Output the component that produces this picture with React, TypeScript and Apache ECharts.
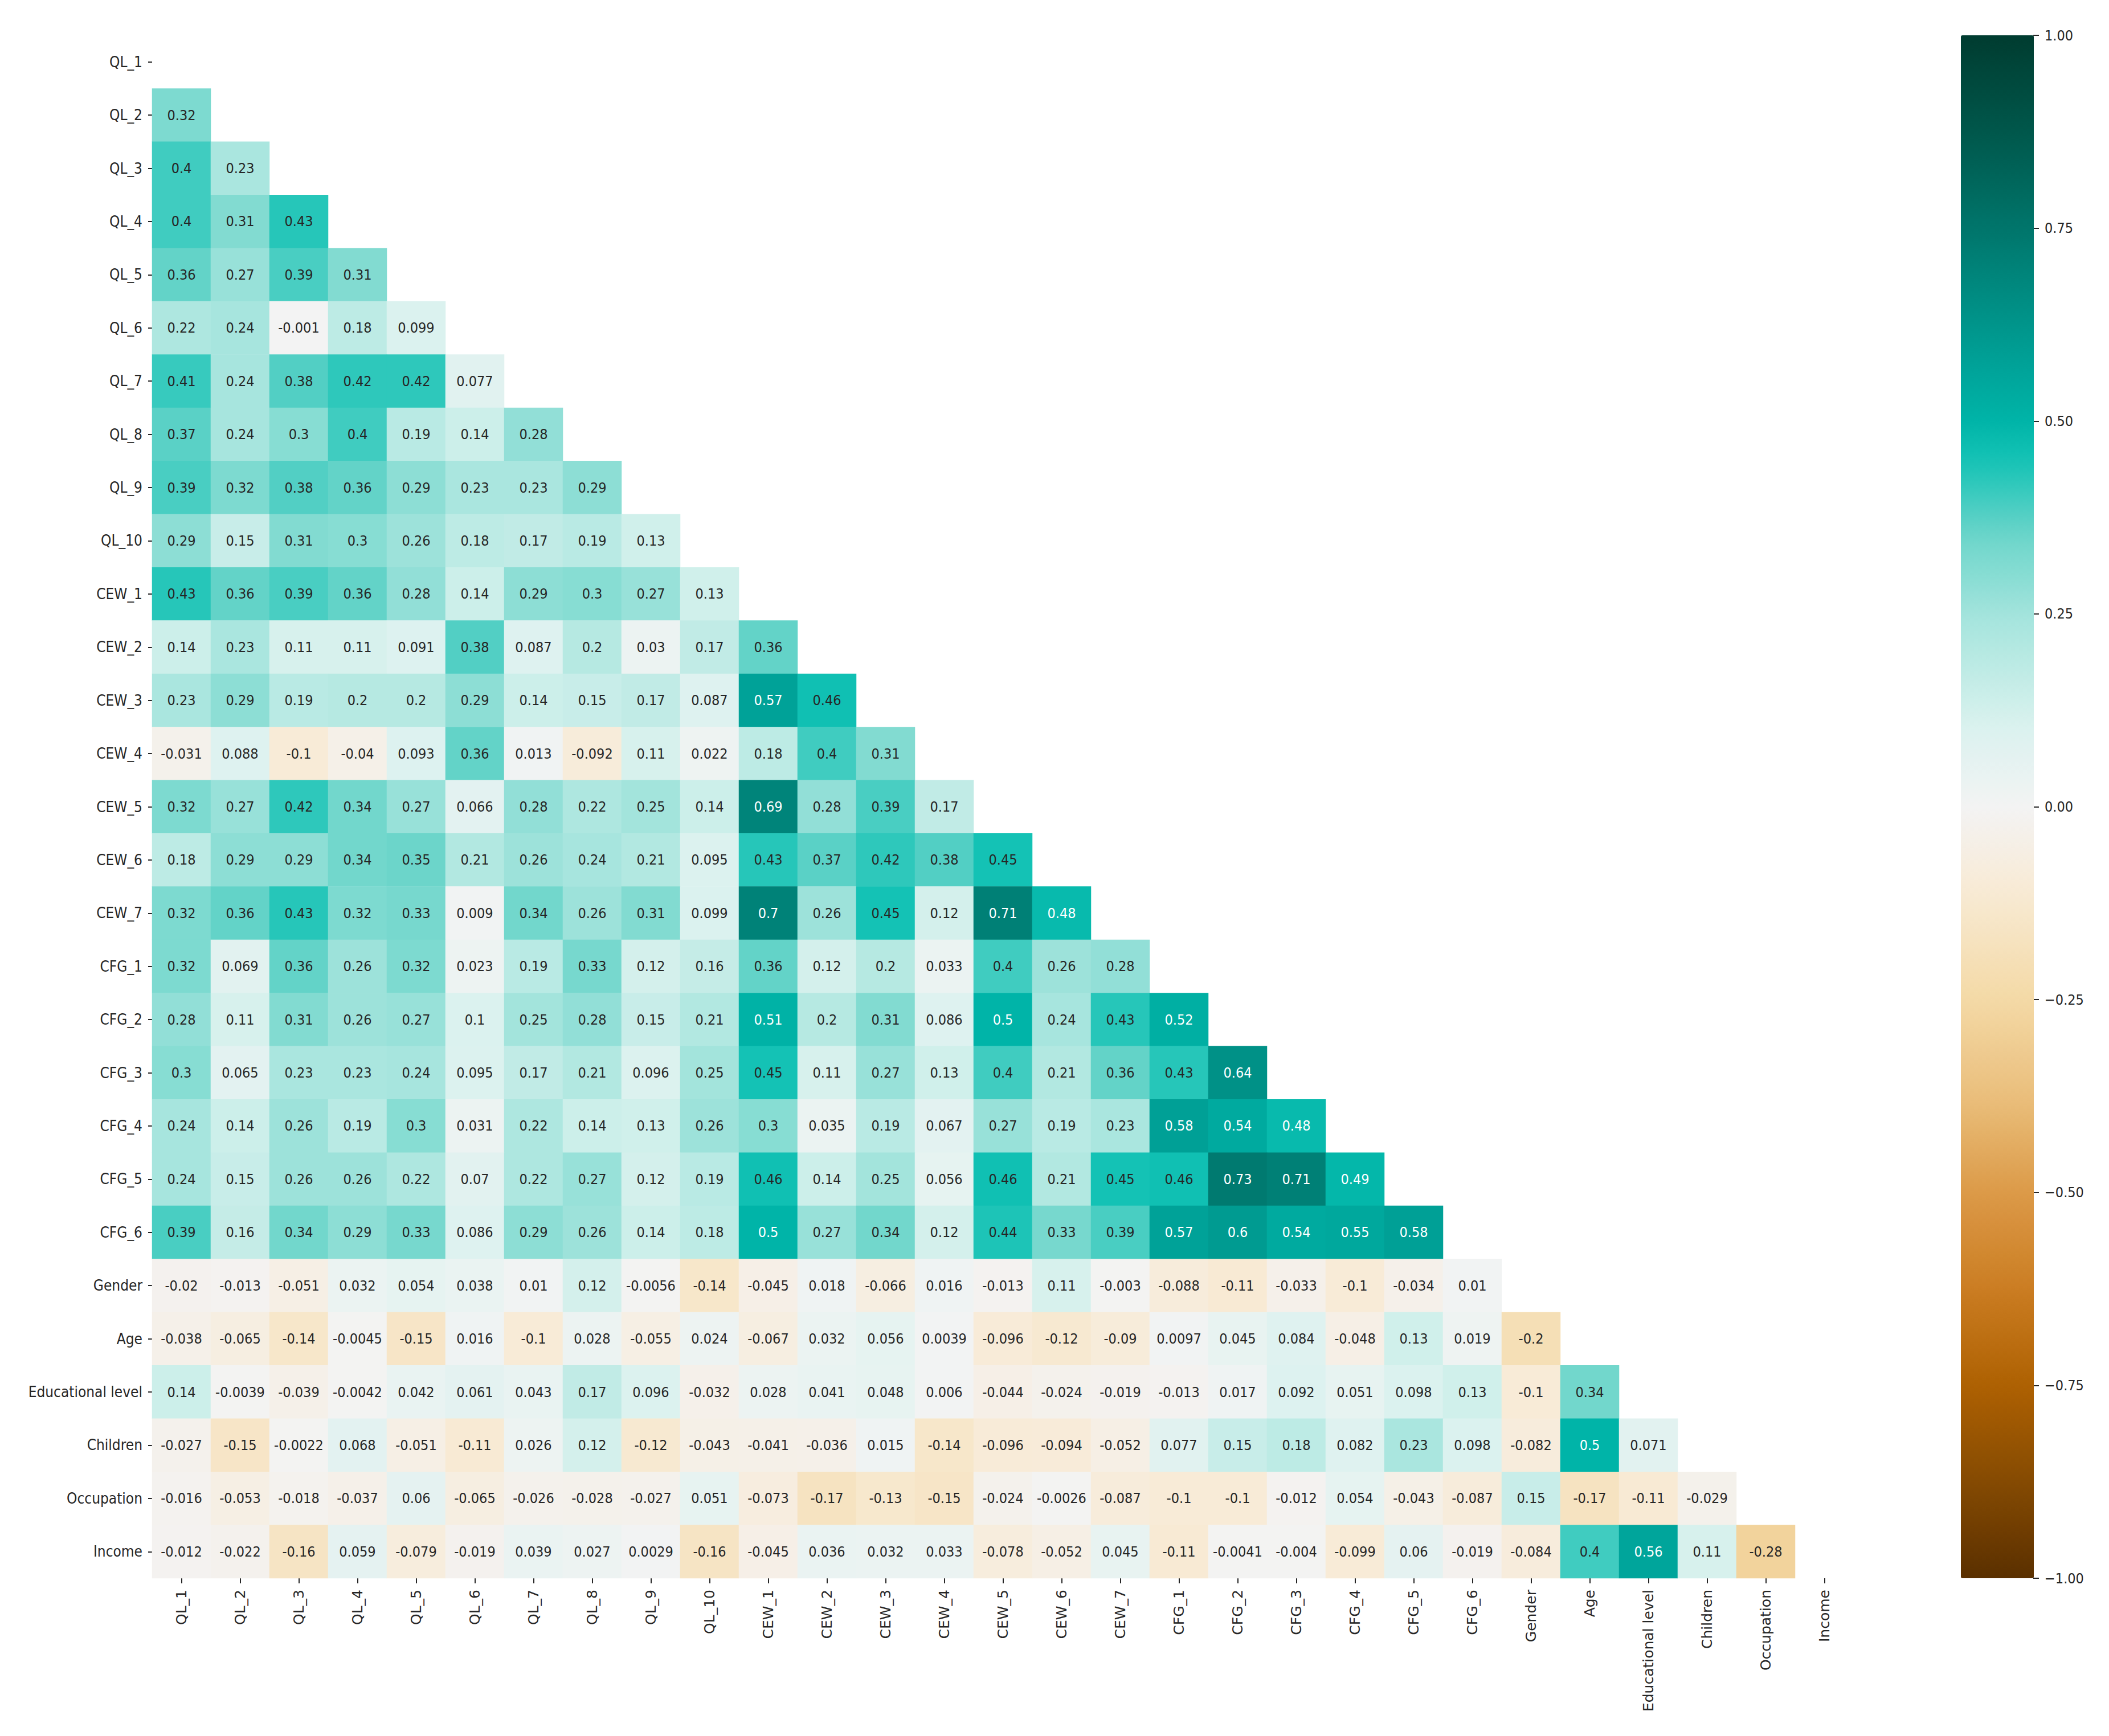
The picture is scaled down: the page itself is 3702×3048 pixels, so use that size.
import React, { useEffect, useRef } from "react";
import * as echarts from "echarts";

// ---------- DATA ----------
const variables = [
  "QL_1", "QL_2", "QL_3", "QL_4", "QL_5", "QL_6", "QL_7", "QL_8", "QL_9", "QL_10",
  "CEW_1", "CEW_2", "CEW_3", "CEW_4", "CEW_5", "CEW_6", "CEW_7",
  "CFG_1", "CFG_2", "CFG_3", "CFG_4", "CFG_5", "CFG_6",
  "Gender", "Age", "Educational level", "Children", "Occupation", "Income",
];

// lower triangle, one row per variable (values against earlier columns)
const rowQL_1: number[] = [];
const rowQL_2 = [0.32];
const rowQL_3 = [0.4, 0.23];
const rowQL_4 = [0.4, 0.31, 0.43];
const rowQL_5 = [0.36, 0.27, 0.39, 0.31];
const rowQL_6 = [0.22, 0.24, -0.001, 0.18, 0.099];
const rowQL_7 = [0.41, 0.24, 0.38, 0.42, 0.42, 0.077];
const rowQL_8 = [0.37, 0.24, 0.3, 0.4, 0.19, 0.14, 0.28];
const rowQL_9 = [0.39, 0.32, 0.38, 0.36, 0.29, 0.23, 0.23, 0.29];
const rowQL_10 = [0.29, 0.15, 0.31, 0.3, 0.26, 0.18, 0.17, 0.19, 0.13];
const rowCEW_1 = [0.43, 0.36, 0.39, 0.36, 0.28, 0.14, 0.29, 0.3, 0.27, 0.13];
const rowCEW_2 = [0.14, 0.23, 0.11, 0.11, 0.091, 0.38, 0.087, 0.2, 0.03, 0.17, 0.36];
const rowCEW_3 = [0.23, 0.29, 0.19, 0.2, 0.2, 0.29, 0.14, 0.15, 0.17, 0.087, 0.57, 0.46];
const rowCEW_4 = [-0.031, 0.088, -0.1, -0.04, 0.093, 0.36, 0.013, -0.092, 0.11, 0.022, 0.18, 0.4, 0.31];
const rowCEW_5 = [0.32, 0.27, 0.42, 0.34, 0.27, 0.066, 0.28, 0.22, 0.25, 0.14, 0.69, 0.28, 0.39, 0.17];
const rowCEW_6 = [0.18, 0.29, 0.29, 0.34, 0.35, 0.21, 0.26, 0.24, 0.21, 0.095, 0.43, 0.37, 0.42, 0.38, 0.45];
const rowCEW_7 = [0.32, 0.36, 0.43, 0.32, 0.33, 0.009, 0.34, 0.26, 0.31, 0.099, 0.7, 0.26, 0.45, 0.12, 0.71, 0.48];
const rowCFG_1 = [0.32, 0.069, 0.36, 0.26, 0.32, 0.023, 0.19, 0.33, 0.12, 0.16, 0.36, 0.12, 0.2, 0.033, 0.4, 0.26, 0.28];
const rowCFG_2 = [0.28, 0.11, 0.31, 0.26, 0.27, 0.1, 0.25, 0.28, 0.15, 0.21, 0.51, 0.2, 0.31, 0.086, 0.5, 0.24, 0.43, 0.52];
const rowCFG_3 = [0.3, 0.065, 0.23, 0.23, 0.24, 0.095, 0.17, 0.21, 0.096, 0.25, 0.45, 0.11, 0.27, 0.13, 0.4, 0.21, 0.36, 0.43, 0.64];
const rowCFG_4 = [0.24, 0.14, 0.26, 0.19, 0.3, 0.031, 0.22, 0.14, 0.13, 0.26, 0.3, 0.035, 0.19, 0.067, 0.27, 0.19, 0.23, 0.58, 0.54, 0.48];
const rowCFG_5 = [0.24, 0.15, 0.26, 0.26, 0.22, 0.07, 0.22, 0.27, 0.12, 0.19, 0.46, 0.14, 0.25, 0.056, 0.46, 0.21, 0.45, 0.46, 0.73, 0.71, 0.49];
const rowCFG_6 = [0.39, 0.16, 0.34, 0.29, 0.33, 0.086, 0.29, 0.26, 0.14, 0.18, 0.5, 0.27, 0.34, 0.12, 0.44, 0.33, 0.39, 0.57, 0.6, 0.54, 0.55, 0.58];
const rowGender = [-0.02, -0.013, -0.051, 0.032, 0.054, 0.038, 0.01, 0.12, -0.0056, -0.14, -0.045, 0.018, -0.066, 0.016, -0.013, 0.11, -0.003, -0.088, -0.11, -0.033, -0.1, -0.034, 0.01];
const rowAge = [-0.038, -0.065, -0.14, -0.0045, -0.15, 0.016, -0.1, 0.028, -0.055, 0.024, -0.067, 0.032, 0.056, 0.0039, -0.096, -0.12, -0.09, 0.0097, 0.045, 0.084, -0.048, 0.13, 0.019, -0.2];
const rowEducation = [0.14, -0.0039, -0.039, -0.0042, 0.042, 0.061, 0.043, 0.17, 0.096, -0.032, 0.028, 0.041, 0.048, 0.006, -0.044, -0.024, -0.019, -0.013, 0.017, 0.092, 0.051, 0.098, 0.13, -0.1, 0.34];
const rowChildren = [-0.027, -0.15, -0.0022, 0.068, -0.051, -0.11, 0.026, 0.12, -0.12, -0.043, -0.041, -0.036, 0.015, -0.14, -0.096, -0.094, -0.052, 0.077, 0.15, 0.18, 0.082, 0.23, 0.098, -0.082, 0.5, 0.071];
const rowOccupation = [-0.016, -0.053, -0.018, -0.037, 0.06, -0.065, -0.026, -0.028, -0.027, 0.051, -0.073, -0.17, -0.13, -0.15, -0.024, -0.0026, -0.087, -0.1, -0.1, -0.012, 0.054, -0.043, -0.087, 0.15, -0.17, -0.11, -0.029];
const rowIncome = [-0.012, -0.022, -0.16, 0.059, -0.079, -0.019, 0.039, 0.027, 0.0029, -0.16, -0.045, 0.036, 0.032, 0.033, -0.078, -0.052, 0.045, -0.11, -0.0041, -0.004, -0.099, 0.06, -0.019, -0.084, 0.4, 0.56, 0.11, -0.28];

const lowerRows = [
  rowQL_1, rowQL_2, rowQL_3, rowQL_4, rowQL_5, rowQL_6, rowQL_7, rowQL_8, rowQL_9, rowQL_10,
  rowCEW_1, rowCEW_2, rowCEW_3, rowCEW_4, rowCEW_5, rowCEW_6, rowCEW_7,
  rowCFG_1, rowCFG_2, rowCFG_3, rowCFG_4, rowCFG_5, rowCFG_6,
  rowGender, rowAge, rowEducation, rowChildren, rowOccupation, rowIncome,
];

const colorbarMin = -1;
const colorbarMax = 1;
const colorbarStep = 0.25;

// ---------- STYLE ----------
const colorStops: [number, string][] = [
  [-1, "#5a3000"], [-0.875, "#854a02"], [-0.75, "#ae6102"], [-0.625, "#cb7d22"],
  [-0.5, "#dc9a48"], [-0.375, "#eabf7c"], [-0.25, "#f4d9a6"], [-0.1, "#f8ebd7"],
  [0, "#f3f3f3"], [0.1, "#dbf2ef"], [0.25, "#a3e4dc"], [0.35, "#6cd5ca"],
  [0.45, "#14c2b5"], [0.5, "#00b4a8"], [0.6, "#009b91"], [0.75, "#00756b"],
  [0.875, "#00574b"], [1, "#003c30"],
];

function hexToRgb(h: string) {
  const n = parseInt(h.slice(1), 16);
  return [(n >> 16) & 255, (n >> 8) & 255, n & 255];
}
function colorAt(v: number) {
  for (let k = 0; k < colorStops.length - 1; k++) {
    const [a, ca] = colorStops[k];
    const [b, cb] = colorStops[k + 1];
    if (v >= a && v <= b) {
      const t = (v - a) / (b - a);
      const A = hexToRgb(ca), B = hexToRgb(cb);
      const c = A.map((x, i) => Math.round(x + (B[i] - x) * t));
      return `rgb(${c[0]},${c[1]},${c[2]})`;
    }
  }
  return colorStops[colorStops.length - 1][1];
}
const rampSamples: string[] = [];
for (let s = 0; s <= 160; s++) rampSamples.push(colorAt(-1 + (2 * s) / 160));

const condensed = "'DejaVu Sans Condensed', 'DejaVu Sans', sans-serif";
const regular = "'DejaVu Sans', sans-serif";
const textDark = "#262626";

const GRID = { left: 267, top: 62, width: 2987, height: 2709 };
const CBAR = { left: 3442, width: 128 };

function fmt(v: number) {
  return String(Number(v.toPrecision(2)));
}

export default function App() {
  const ref = useRef<HTMLDivElement>(null);
  useEffect(() => {
    if (!ref.current) return;
    const chart = echarts.init(ref.current, undefined, { renderer: "svg" });
    const data: any[] = [];
    lowerRows.forEach((row, i) => {
      row.forEach((v, j) => {
        data.push({
          value: [j, i, v],
          label: { color: v >= 0.47 ? "#ffffff" : textDark },
        });
      });
    });
    chart.setOption({
      animation: false,
      backgroundColor: "#ffffff",
      grid: [
        { left: GRID.left, top: GRID.top, width: GRID.width, height: GRID.height },
        { left: CBAR.left + CBAR.width - 1, top: GRID.top, width: 1, height: GRID.height },
      ],
      xAxis: [
        {
          type: "category",
          data: variables,
          gridIndex: 0,
          position: "bottom",
          axisLine: { show: false },
          axisTick: { show: true, alignWithLabel: true, length: 9, lineStyle: { color: textDark, width: 2 } },
          axisLabel: { interval: 0, rotate: 90, margin: 20, fontSize: 25, color: textDark, fontFamily: regular },
          splitLine: { show: false },
          splitArea: { show: false },
        },
        { type: "value", gridIndex: 1, show: false, min: 0, max: 1 },
      ],
      yAxis: [
        {
          type: "category",
          data: variables,
          gridIndex: 0,
          inverse: true,
          axisLine: { show: false },
          axisTick: { show: true, alignWithLabel: true, length: 7, lineStyle: { color: textDark, width: 2 } },
          axisLabel: { interval: 0, margin: 17, fontSize: 26, color: textDark, fontFamily: condensed },
          splitLine: { show: false },
          splitArea: { show: false },
        },
        {
          type: "value",
          gridIndex: 1,
          position: "right",
          min: colorbarMin,
          max: colorbarMax,
          interval: colorbarStep,
          axisLine: { show: false },
          axisTick: { show: true, length: 10, lineStyle: { color: textDark, width: 2 } },
          axisLabel: {
            margin: 19,
            fontSize: 25,
            color: textDark,
            fontFamily: condensed,
            formatter: (v: number) => (v < 0 ? "\u2212" + Math.abs(v).toFixed(2) : v.toFixed(2)),
          },
          splitLine: { show: false },
        },
      ],
      visualMap: {
        type: "continuous",
        min: colorbarMin,
        max: colorbarMax,
        seriesIndex: 0,
        calculable: false,
        hoverLink: false,
        orient: "vertical",
        left: CBAR.left,
        top: GRID.top,
        padding: 0,
        itemWidth: CBAR.width,
        itemHeight: GRID.height,
        text: null,
        showLabel: false,
        inRange: { color: rampSamples },
      },
      series: [
        {
          type: "heatmap",
          xAxisIndex: 0,
          yAxisIndex: 0,
          data,
          label: {
            show: true,
            fontSize: 25,
            fontFamily: condensed,
            formatter: (p: any) => fmt(p.value[2]),
          },
          itemStyle: { borderWidth: 0 },
          emphasis: { disabled: true },
        },
      ],
    });
    return () => chart.dispose();
  }, []);
  return (
    <div
      ref={ref}
      style={{ position: "absolute", left: 0, top: 0, width: 3702, height: 3048 }}
    />
  );
}
